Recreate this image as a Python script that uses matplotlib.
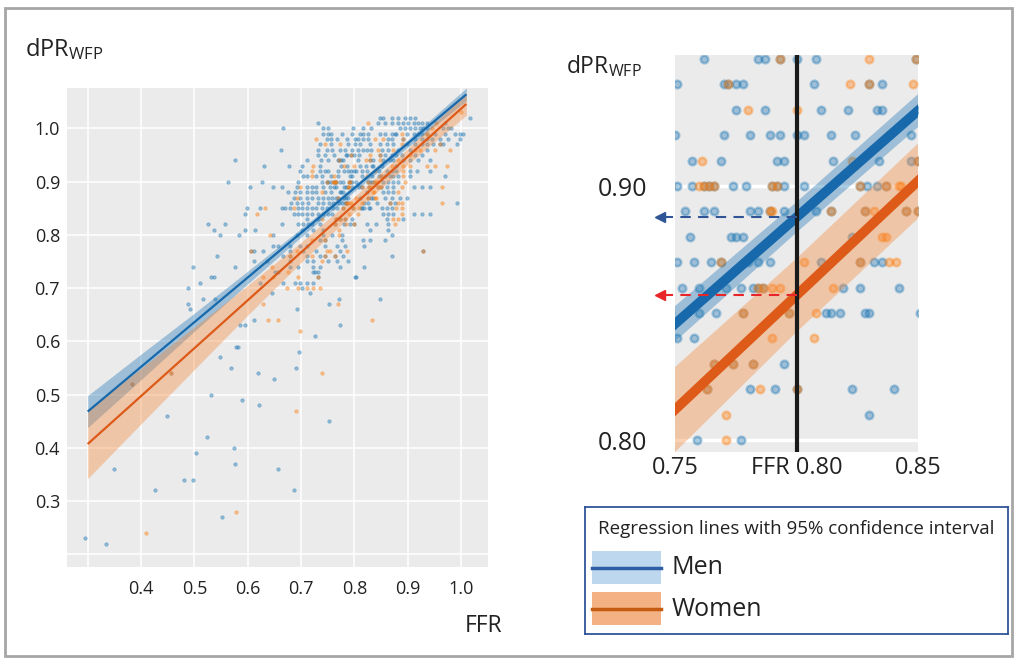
import numpy as np
import matplotlib.pyplot as plt
from matplotlib.patches import Rectangle

plt.rcParams['font.family'] = ['Open Sans', 'DejaVu Sans']
plt.rcParams['mathtext.fontset'] = 'custom'
plt.rcParams['mathtext.rm'] = 'Open Sans'
plt.rcParams['mathtext.default'] = 'regular'

# ---- data: (dPR value, [FFR values on that row]) ----
men_rows = [
    (1.02, [0.848, 0.854, 0.870, 0.882, 0.895, 0.904, 0.914, 1.017]),
    (1.01, [0.731, 0.845, 0.857, 0.870, 0.882, 0.892, 0.901, 0.911, 0.920, 0.926, 0.936, 0.970]),
    (1.00, [0.667, 0.742, 0.751, 0.798, 0.817, 0.832, 0.886, 0.895, 0.904, 0.914, 0.923, 0.929,
            0.936, 0.967, 0.976, 0.982]),
    (0.99, [0.742, 0.751, 0.757, 0.776, 0.795, 0.811, 0.817, 0.826, 0.848, 0.857, 0.870, 0.876,
            0.879, 0.898, 0.911, 0.920, 0.926, 0.936, 0.951, 0.970, 0.989, 0.998, 1.004]),
    (0.98, [0.748, 0.757, 0.767, 0.786, 0.801, 0.807, 0.817, 0.826, 0.864, 0.870, 0.892, 0.914,
            0.926, 0.936, 0.945, 0.961, 0.976, 0.998]),
    (0.97, [0.736, 0.757, 0.789, 0.801, 0.811, 0.829, 0.848, 0.861, 0.873, 0.898, 0.914, 0.926,
            0.936, 0.948, 0.961, 0.967, 0.992]),
    (0.96, [0.662, 0.731, 0.748, 0.759, 0.773, 0.782, 0.795, 0.807, 0.817, 0.823, 0.832, 0.851,
            0.864, 0.882, 0.904, 0.936]),
    (0.95, [0.732, 0.745, 0.762, 0.784, 0.787, 0.793, 0.800, 0.808, 0.849, 0.857, 0.870, 0.879,
            0.889, 0.914, 0.926]),
    (0.94, [0.576, 0.712, 0.738, 0.751, 0.770, 0.772, 0.775, 0.778, 0.807, 0.830, 0.835, 0.854,
            0.867, 0.873, 0.892, 0.904, 0.920, 0.942]),
    (0.93, [0.631, 0.678, 0.701, 0.736, 0.775, 0.787, 0.810, 0.821, 0.833, 0.835, 0.851, 0.879]),
    (0.92, [0.698, 0.736, 0.745, 0.750, 0.770, 0.781, 0.789, 0.793, 0.800, 0.803, 0.814, 0.824,
            0.847, 0.861, 0.870, 0.879, 0.904, 0.917, 0.942]),
    (0.91, [0.704, 0.711, 0.729, 0.739, 0.757, 0.769, 0.792, 0.795, 0.815, 0.834, 0.847, 0.850,
            0.857, 0.867, 0.873, 0.882, 0.904, 0.970]),
    (0.90, [0.564, 0.626, 0.695, 0.739, 0.748, 0.751, 0.757, 0.762, 0.764, 0.766, 0.774, 0.779,
            0.790, 0.792, 0.795, 0.803, 0.826, 0.829, 0.833, 0.837, 0.854, 0.864, 0.873, 0.882]),
    (0.89, [0.604, 0.648, 0.664, 0.692, 0.711, 0.720, 0.729, 0.742, 0.754, 0.762, 0.766, 0.781,
            0.784, 0.789, 0.795, 0.808, 0.814, 0.828, 0.845, 0.850, 0.861, 0.873, 0.911, 0.926,
            0.942]),
    (0.88, [0.676, 0.689, 0.698, 0.711, 0.720, 0.729, 0.745, 0.756, 0.773, 0.775, 0.778, 0.823,
            0.854, 0.864, 0.873]),
    (0.87, [0.686, 0.698, 0.711, 0.720, 0.732, 0.742, 0.751, 0.758, 0.765, 0.769, 0.780, 0.784,
            0.789, 0.810, 0.826, 0.832, 0.835, 0.857, 0.870, 0.886, 0.898]),
    (0.86, [0.682, 0.692, 0.701, 0.714, 0.732, 0.742, 0.753, 0.760, 0.771, 0.777, 0.782, 0.784,
            0.786, 0.819, 0.826, 0.842, 0.867, 0.876, 0.992]),
    (0.85, [0.598, 0.623, 0.664, 0.670, 0.679, 0.695, 0.701, 0.711, 0.720, 0.729, 0.739, 0.748,
            0.760, 0.767, 0.778, 0.797, 0.812, 0.814, 0.818, 0.828, 0.830, 0.851, 0.861, 0.870]),
    (0.84, [0.595, 0.686, 0.695, 0.701, 0.711, 0.720, 0.732, 0.742, 0.751, 0.758, 0.854, 0.864,
            0.873, 0.911, 0.926, 0.942]),
    (0.83, [0.711, 0.732, 0.766, 0.774, 0.782, 0.795, 0.861, 0.892]),
    (0.82, [0.526, 0.558, 0.664, 0.695, 0.704, 0.714, 0.720, 0.736, 0.763, 0.781, 0.791, 0.800,
            0.823, 0.840, 0.864]),
    (0.81, [0.536, 0.595, 0.614, 0.701, 0.723, 0.742, 0.830, 0.864]),
    (0.80, [0.549, 0.583, 0.648, 0.692, 0.711, 0.742, 0.759, 0.777, 0.870]),
    (0.79, [0.736, 0.745, 0.776, 0.817, 0.829, 0.857]),
    (0.78, [0.648, 0.657, 0.679, 0.698, 0.711, 0.745, 0.767, 0.782, 0.818]),
    (0.77, [0.607, 0.611, 0.629, 0.679, 0.704, 0.729, 0.773, 0.929]),
    (0.76, [0.542, 0.667, 0.679, 0.711, 0.736, 0.745, 0.764, 0.779, 0.870]),
    (0.75, [0.611, 0.636, 0.679, 0.711, 0.723, 0.751, 0.767, 0.789]),
    (0.74, [0.498, 0.576, 0.679, 0.695, 0.723, 0.736, 0.773, 0.818]),
    (0.73, [0.651, 0.657, 0.723, 0.726, 0.732]),
    (0.72, [0.532, 0.536, 0.732, 0.801, 0.804]),
    (0.71, [0.511, 0.624, 0.667, 0.689, 0.698, 0.711, 0.723]),
    (0.70, [0.489, 0.701]),
    (0.69, [0.645, 0.717]),
    (0.68, [0.517, 0.539, 0.772, 0.849]),
    (0.67, [0.489, 0.753]),
    (0.66, [0.492, 0.692]),
    (0.64, [0.611]),
    (0.63, [0.586, 0.595, 0.773]),
    (0.61, [0.726]),
    (0.59, [0.579, 0.582]),
    (0.58, [0.697]),
    (0.57, [0.548]),
    (0.55, [0.569, 0.690]),
    (0.54, [0.456, 0.619]),
    (0.53, [0.649]),
    (0.52, [0.384]),
    (0.50, [0.532]),
    (0.49, [0.590]),
    (0.48, [0.622]),
    (0.46, [0.448]),
    (0.45, [0.753]),
    (0.42, [0.524]),
    (0.40, [0.575]),
    (0.39, [0.504]),
    (0.37, [0.576]),
    (0.36, [0.350, 0.656]),
    (0.34, [0.481, 0.498]),
    (0.32, [0.427, 0.686]),
    (0.27, [0.552]),
    (0.23, [0.295]),
    (0.22, [0.334]),
]

women_rows = [
    (1.03, [1.000]),
    (1.01, [0.826, 0.954]),
    (1.00, [0.945]),
    (0.99, [0.889, 0.936]),
    (0.98, [0.728, 0.839, 0.854, 0.892]),
    (0.97, [0.745, 0.773, 0.889, 0.961]),
    (0.96, [0.845, 0.873, 0.914, 0.923, 0.951, 0.979]),
    (0.95, [0.793, 0.830, 0.849, 0.904]),
    (0.94, [0.772, 0.822, 0.830, 0.848, 0.882]),
    (0.93, [0.722, 0.780, 0.800, 0.870, 0.892, 0.904, 0.936, 0.951, 0.973]),
    (0.92, [0.720, 0.838, 0.892]),
    (0.91, [0.720, 0.761, 0.823, 0.850, 0.892]),
    (0.90, [0.748, 0.760, 0.762, 0.764, 0.766, 0.790, 0.792, 0.826, 0.837, 0.842, 0.843, 0.895]),
    (0.89, [0.698, 0.789, 0.790, 0.814, 0.828, 0.832, 0.845, 0.850, 0.889, 0.964]),
    (0.88, [0.739, 0.835, 0.837, 0.882]),
    (0.87, [0.692, 0.769, 0.803, 0.826, 0.838, 0.841]),
    (0.86, [0.784, 0.786, 0.790, 0.793, 0.815, 0.867, 0.882, 0.889, 0.964]),
    (0.85, [0.632, 0.686, 0.778, 0.797, 0.808, 0.879, 0.889]),
    (0.84, [0.617, 0.790, 0.807, 0.889]),
    (0.83, [0.739, 0.766, 0.774, 0.782, 0.873, 0.882]),
    (0.82, [0.763, 0.785, 0.800, 0.876]),
    (0.81, [0.771]),
    (0.80, [0.642, 0.771]),
    (0.79, [0.720, 0.745]),
    (0.77, [0.607, 0.692, 0.748, 0.754, 0.786, 0.929]),
    (0.76, [0.679, 0.720, 0.745, 0.764]),
    (0.75, [0.739]),
    (0.74, [0.645]),
    (0.73, [0.676]),
    (0.72, [0.629, 0.648, 0.695, 0.732]),
    (0.70, [0.673, 0.695, 0.711, 0.723, 0.736]),
    (0.67, [0.629, 0.769]),
    (0.64, [0.639, 0.657, 0.833]),
    (0.62, [0.699]),
    (0.54, [0.456, 0.740]),
    (0.52, [0.384]),
    (0.47, [0.691]),
    (0.28, [0.578]),
    (0.24, [0.409]),
]

# regression lines (end points) and 95% CI half widths
line_ffr = [0.30, 1.01]
men_line = [0.468, 1.064]
women_line = [0.407, 1.046]
ci_ffr = [0.30, 0.40, 0.50, 0.60, 0.70, 0.80, 0.90, 1.01]
men_ci = [0.030, 0.024, 0.017, 0.012, 0.008, 0.006, 0.007, 0.012]
women_ci = [0.065, 0.052, 0.040, 0.028, 0.019, 0.0145, 0.015, 0.021]

group_names = ['Men', 'Women']
left_xticks = [0.3, 0.4, 0.5, 0.6, 0.7, 0.8, 0.9, 1.0]
left_xlabels = ['', '0.4', '0.5', '0.6', '0.7', '0.8', '0.9', '1.0']
left_yticks = [0.2, 0.3, 0.4, 0.5, 0.6, 0.7, 0.8, 0.9, 1.0]
left_ylabels = ['', '0.3', '0.4', '0.5', '0.6', '0.7', '0.8', '0.9', '1.0']
zoom_xticks = [0.75, 0.80, 0.85]
zoom_xlabels = ['0.75', 'FFR 0.80', '0.85']
zoom_yticks = [0.80, 0.90]
zoom_ylabels = ['0.80', '0.90']
ffr_cut = 0.80


def expand(rows):
    xs, ys = [], []
    for d, ffrs in rows:
        xs += ffrs
        ys += [d] * len(ffrs)
    return np.array(xs), np.array(ys)


men_x, men_y = expand(men_rows)
women_x, women_y = expand(women_rows)

dot_c = ['#1f77b4', '#ff7f0e']
line_c = ['#1769ac', '#dd5a19']
band_c = ['#1f77b4', '#f5883a']

fig = plt.figure(figsize=(10.16, 6.62), dpi=100)
ax1 = fig.add_axes([0.0659, 0.1435, 0.4144, 0.7236])
ax2 = fig.add_axes([0.6644, 0.3172, 0.2392, 0.5997])

groups = [(men_x, men_y, men_line, men_ci), (women_x, women_y, women_line, women_ci)]

for ax, big in [(ax1, False), (ax2, True)]:
    ax.set_facecolor('#ebebeb')
    for s in ax.spines.values():
        s.set_visible(False)
    ax.tick_params(length=0, colors='#222222')
    for i, (gx, gy, gl, gci) in enumerate(groups):
        if big:
            ax.scatter(gx, gy, s=30, color=dot_c[i], alpha=0.38, linewidths=1.8, zorder=2)
        else:
            ax.scatter(gx, gy, s=6, color=dot_c[i], alpha=0.42, linewidths=0.6, zorder=2)
        mid = np.interp(ci_ffr, line_ffr, gl)
        ax.fill_between(ci_ffr, mid - np.array(gci), mid + np.array(gci),
                        color=band_c[i], alpha=0.38, lw=0, zorder=3)
        ax.plot(line_ffr, gl, color=line_c[i], lw=7 if big else 1.6, zorder=4,
                solid_capstyle='butt')

# left panel
ax1.set_xlim(0.2612, 1.0506)
ax1.set_ylim(0.176, 1.076)
ax1.set_xticks(left_xticks, left_xlabels, fontsize=13)
ax1.set_yticks(left_yticks, left_ylabels, fontsize=13)
ax1.tick_params(axis='x', pad=9)
ax1.tick_params(axis='y', pad=5)
ax1.grid(color='white', lw=1.1, zorder=0)
ax1.set_axisbelow(True)

# right panel (zoom around FFR 0.80)
ax2.set_xlim(0.75, 0.85)
ax2.set_ylim(0.7953, 0.9516)
ax2.set_xticks(zoom_xticks, zoom_xlabels, fontsize=17)
ax2.set_yticks(zoom_yticks, zoom_ylabels, fontsize=18)
ax2.tick_params(axis='x', pad=3)
ax2.tick_params(axis='y', pad=20)
ax2.grid(axis='y', color='white', lw=2.5, zorder=0)
ax2.set_axisbelow(True)
ax2.axvline(ffr_cut, color='#1a1a1a', lw=3, zorder=6)

arrow_c = ['#2f5597', '#e8262a']
for i, gl in enumerate([men_line, women_line]):
    yv = np.interp(ffr_cut, line_ffr, gl)
    ax2.plot([ffr_cut, 0.7445], [yv, yv], ls='--', dashes=(5, 3.5), lw=1.5,
             color=arrow_c[i], clip_on=False, zorder=7)
    ax2.plot([0.7438], [yv], marker='<', ms=6.5, color=arrow_c[i], clip_on=False, zorder=7)

# axis titles
fig.text(25 / 1016, 1 - 56 / 662, 'dPR$_{WFP}$', fontsize=17, va='baseline', color='#222222')
fig.text(566 / 1016, 1 - 73 / 662, 'dPR$_{WFP}$', fontsize=16.5, va='baseline', color='#222222')
fig.text(484 / 1016, 1 - 626 / 662, 'FFR', fontsize=16.5, ha='center', va='center', color='#222222')

# legend box
lax = fig.add_axes([585 / 1016, 1 - 634 / 662, 423 / 1016, 127 / 662])
lax.set_xlim(0, 423)
lax.set_ylim(127, 0)
lax.set_xticks([])
lax.set_yticks([])
for s in lax.spines.values():
    s.set_color('#2f5597')
    s.set_linewidth(1.3)
lax.text(211, 22, 'Regression lines with 95% confidence interval', ha='center', va='center',
         fontsize=13.5, color='#222222')
patch_fc = ['#bdd7ee', '#f4b183']
patch_lc = ['#2e5fa5', '#c55a11']
for i, name in enumerate(group_names):
    top = 44 + i * 41
    lax.add_patch(Rectangle((7, top), 69, 33, fc=patch_fc[i], ec='none'))
    lax.plot([7, 76], [top + 17, top + 17], color=patch_lc[i], lw=2.5)
    lax.text(87, top + 17, name, va='center', fontsize=18, color='#222222')

# outer frame
fig.add_artist(Rectangle((0.0049, 0.0091), 0.9912, 0.979, transform=fig.transFigure,
                         fill=False, ec='#a6a6a6', lw=2))

fig.savefig('out.png', dpi=100)
